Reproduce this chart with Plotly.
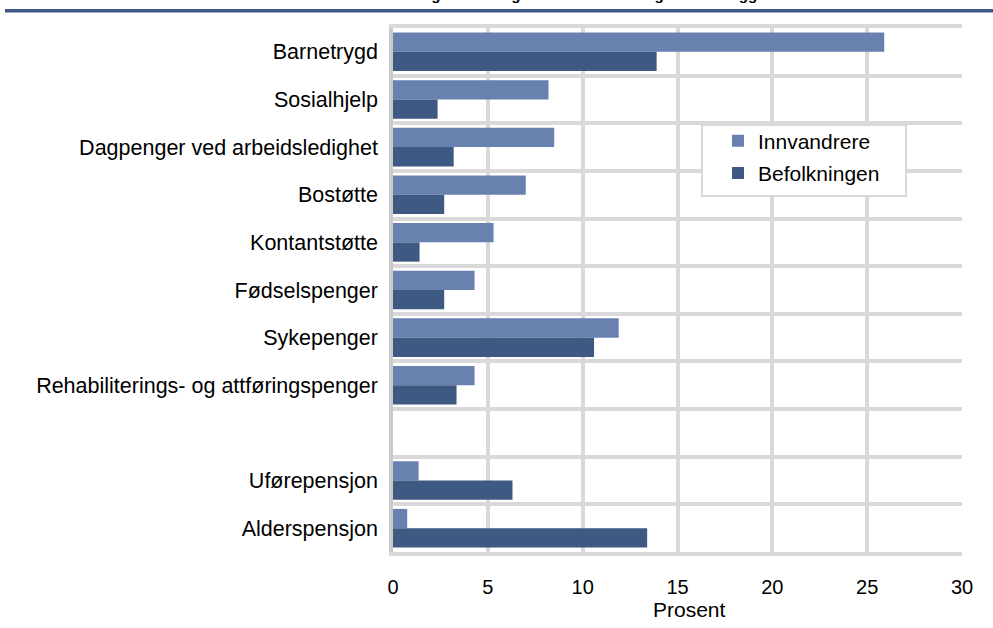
import plotly.graph_objects as go

categories = ["Barnetrygd", "Sosialhjelp", "Dagpenger ved arbeidsledighet", "Bostøtte",
              "Kontantstøtte", "Fødselspenger", "Sykepenger",
              "Rehabiliterings- og attføringspenger", " ", "Uførepensjon", "Alderspensjon"]
innvandrere = [25.9, 8.2, 8.5, 7.0, 5.3, 4.3, 11.9, 4.3, 0, 1.35, 0.75]
befolkningen = [13.9, 2.35, 3.2, 2.7, 1.4, 2.7, 10.6, 3.35, 0, 6.3, 13.4]
x_ticks = [0, 5, 10, 15, 20, 25, 30]

LIGHT = "#6981AF"
DARK = "#3F5A82"
GRID = "#d9d9d9"
FONT = "Liberation Sans, Arial, sans-serif"

L, R, T, B = 393, 31, 28, 76
W, H = 993, 628
PW, PH = W - L - R, H - T - B


def px_x(p):
    return (p - L) / PW


def px_y(p):
    return 1 - (p - T) / PH


fig = go.Figure()
fig.add_trace(go.Bar(y=categories, x=innvandrere, orientation="h", name="Innvandrere",
                     legendgroup="a", marker=dict(color=LIGHT, line=dict(width=0))))
fig.add_trace(go.Bar(y=categories, x=befolkningen, orientation="h", name="Befolkningen",
                     legendgroup="b", marker=dict(color=DARK, line=dict(width=0))))

fig.update_layout(
    width=W, height=H,
    margin=dict(l=L, r=R, t=T, b=B, autoexpand=False),
    paper_bgcolor="white", plot_bgcolor="white",
    barmode="group", bargap=0.19, bargroupgap=0,
    font=dict(family=FONT, size=21, color="black"),
    showlegend=True,
    legend=dict(x=px_x(718), y=px_y(120.5), xanchor="left", yanchor="top",
                bgcolor="rgba(0,0,0,0)", borderwidth=0,
                font=dict(size=21), traceorder="grouped",
                tracegroupgap=2),
    xaxis=dict(range=[0, 30], tickvals=x_ticks, ticktext=[str(v) for v in x_ticks],
               showgrid=True, gridcolor=GRID, gridwidth=4, zeroline=False,
               ticks="outside", ticklen=14, tickcolor="rgba(0,0,0,0)",
               tickfont=dict(size=20), showline=True, mirror=True,
               linecolor=GRID, linewidth=4, automargin=False),
    yaxis=dict(type="category", categoryorder="array", categoryarray=categories,
               autorange="reversed", tickson="boundaries",
               showgrid=True, gridcolor=GRID, gridwidth=4, zeroline=False,
               showline=True, linecolor="#cacaca", linewidth=3.5,
               ticks="outside", ticklen=30, tickcolor="rgba(0,0,0,0)",
               ticklabelstandoff=7,
               tickfont=dict(size=21.5), automargin=False),
)

# legend frame
fig.add_shape(type="rect", xref="paper", yref="paper", layer="above",
              x0=px_x(702), x1=px_x(906), y0=px_y(196), y1=px_y(125),
              fillcolor="white", line=dict(color=GRID, width=2))

# header rule and (clipped) title
fig.add_shape(type="line", xref="paper", yref="paper",
              x0=px_x(5), x1=px_x(993), y0=px_y(10.7), y1=px_y(10.7),
              line=dict(color=DARK, width=3.5))
fig.add_annotation(text="<b>Innvandrere og befolkningen etter mottaket og andre tillegg</b>",
                   xref="paper", yref="paper", x=px_x(544.5), y=px_y(5.5),
                   xanchor="center", yanchor="bottom", showarrow=False,
                   font=dict(size=15, family=FONT))
fig.add_annotation(text="Prosent", xref="paper", yref="paper",
                   x=px_x(689), y=px_y(609),
                   xanchor="center", yanchor="middle", showarrow=False,
                   font=dict(size=21, family=FONT))

fig.write_html("out.html", post_script="document.body.style.margin='0';",
               config={"displayModeBar": False})
